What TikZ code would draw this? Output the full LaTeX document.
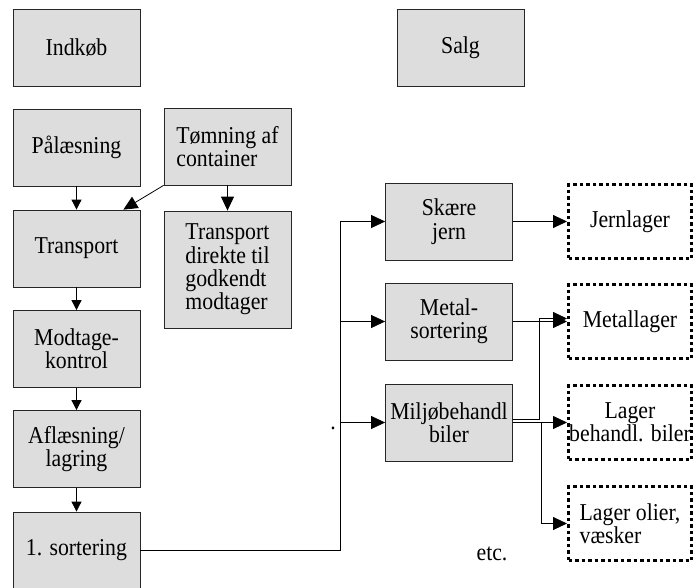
\documentclass[tikz,border=0pt]{standalone}
\usepackage{fontspec}
\setmainfont{Liberation Serif}[FakeStretch=0.9]
\usetikzlibrary{arrows.meta}
\definecolor{boxgray}{HTML}{DDDDDD}

\begin{document}
\begin{tikzpicture}[x=1pt, y=-1pt,
	font=\fontsize{24.2}{23.4}\selectfont,
	proc/.style={draw=black!85, fill=boxgray, line width=.8pt, minimum width=127pt, minimum height=77pt, inner sep=0pt, align=center},
	lager/.style={draw, line width=3pt, dash pattern=on 3.5pt off 3pt, minimum width=123pt, minimum height=74pt, inner sep=0pt, align=center},
	arr/.style={-{Triangle[length=10pt,width=10pt]}, line width=.8pt},
	bigarr/.style={-{Triangle[length=14pt,width=13pt]}, line width=.8pt}]
	\useasboundingbox (0,0) rectangle (695,588);
			\node[proc] (Ind) at (76.5,47.5) {Indkøb};
			\node[proc] (Salg) at (460.5,47.5) {Salg};
		\node[proc] (Paa) at (76.5,147.5) {Pålæsning};
			\node[proc, align=left] (Tom) at (227.5,146.5) {Tømning af\\container};
		\node[proc] (Trans) at (76.5,248.5) {Transport};
			\node[proc, align=left, minimum height=117pt] (Dir) at (227.5,269.5) {Transport\\direkte til\\godkendt\\modtager};
		\node[proc] (Mod) at (76.5,349) {Modtage-\\kontrol};
		\node[proc] (Afl) at (76.5,449) {Aflæsning/\\lagring};
		\node[proc] (Sort) at (76.5,550.5) {1. sortering};
			\node[proc] (Skaere) at (449,221.5) {Skære\\jern};
			\node[proc] (Metal) at (449,321.5) {Metal-\\sortering};
			\node[proc] (Miljo) at (449,422.5) {Miljøbehandl\\biler};
				\node[lager] (Jern) at (630,221.5) {Jernlager};
				\node[lager] (Metallag) at (630,321.5) {Metallager};
				\node[lager] (Lagerbil) at (630,422.5) {Lager\\behandl. biler};
				\node[lager, align=left] (Lagerolie) at (630,523.5) {Lager olier,\\væsker};
			\node (Etc) at (492,554) {etc.};
			\node[anchor=base] (Dot) at (333,429) {.};
		\draw[arr] (Paa) -- (Trans);
		\draw[bigarr] (Tom.south west) -- ([xshift=-17pt]Trans.north east);
		\draw[bigarr] (Tom) -- (Dir);
		\draw[arr] (Trans) -- (Mod);
		\draw[arr] (Mod) -- (Afl);
		\draw[arr] (Afl) -- (Sort);
		\coordinate (bus) at (340,550.5);
		\draw[line width=.8pt] (Sort.east) -- (bus);
			\draw[bigarr] (bus) |- (Skaere);
			\draw[bigarr] (bus) |- (Metal);
			\draw[bigarr] (bus) |- (Miljo);
		\draw[bigarr] (Skaere) -- (Jern);
		\draw[bigarr] (Metal) -- (Metallag);
		\draw[bigarr] ([yshift=3pt]Miljo.east) -- ++(26,0) |- ([yshift=3pt]Metallag.west);
		\draw[bigarr] (Miljo) -- (Lagerbil);
			\draw[bigarr] ([xshift=28pt]Miljo.east) |- (Lagerolie);
\end{tikzpicture}
\end{document}
